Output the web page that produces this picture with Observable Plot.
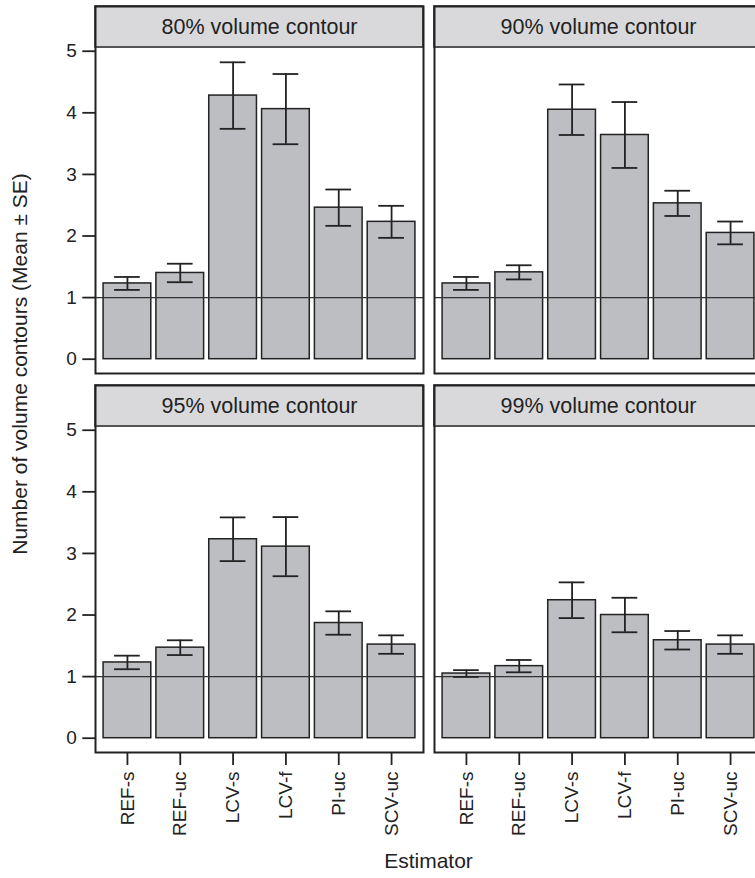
<!DOCTYPE html>
<html>
<head>
<meta charset="utf-8">
<script src="https://cdn.jsdelivr.net/npm/d3@7"></script>
<script src="https://cdn.jsdelivr.net/npm/@observablehq/plot@0.6"></script>
<style>
  html, body { margin: 0; padding: 0; background: #fff; overflow: hidden; }
  #chart { width: 755px; height: 878px; overflow: hidden; }
</style>
</head>
<body>
<div id="chart"></div>
<script>
// ---- data ----
const estimators = ["REF-s", "REF-uc", "LCV-s", "LCV-f", "PI-uc", "SCV-uc"];
const panelNames = ["80% volume contour", "90% volume contour", "95% volume contour", "99% volume contour"];
const panelCol = [0, 1, 0, 1];
const panelRow = [0, 0, 1, 1];

const mean80 = [1.23, 1.40, 4.28, 4.06, 2.46, 2.23];
const se80   = [0.105, 0.15, 0.54, 0.57, 0.295, 0.26];
const mean90 = [1.23, 1.41, 4.05, 3.64, 2.53, 2.05];
const se90   = [0.105, 0.115, 0.41, 0.535, 0.205, 0.185];
const mean95 = [1.23, 1.47, 3.23, 3.11, 1.87, 1.52];
const se95   = [0.11, 0.12, 0.355, 0.48, 0.19, 0.15];
const mean99 = [1.05, 1.17, 2.24, 2.00, 1.59, 1.52];
const se99   = [0.055, 0.10, 0.29, 0.28, 0.15, 0.15];

const yTicks = [0, 1, 2, 3, 4, 5];
const refLine = [1];
const yTitle = "Number of volume contours (Mean \u00b1 SE)";
const xTitle = "Estimator";

// ---- build table ----
const means = [mean80, mean90, mean95, mean99];
const ses = [se80, se90, se95, se99];
const rows = [];
panelNames.forEach((p, i) => {
  estimators.forEach((e, j) => {
    rows.push({panel: p, col: panelCol[i], row: panelRow[i], est: e,
               mean: means[i][j], lo: means[i][j] - ses[i][j], hi: means[i][j] + ses[i][j]});
  });
});
const panels = panelNames.map((p, i) => ({panel: p, col: panelCol[i], row: panelRow[i]}));

const ink = "#222";
const font = "'Liberation Sans', Arial, Helvetica, sans-serif";

const chart = Plot.plot({
  width: 762,
  height: 878,
  marginLeft: 95,
  marginRight: 0,
  marginTop: 6,
  marginBottom: 126,
  style: {fontFamily: font, color: ink, background: "#fff", maxWidth: "none", overflow: "visible"},
  fx: {domain: [0, 1], paddingInner: 0.0324, paddingOuter: 0, round: false, axis: null},
  fy: {domain: [0, 1], paddingInner: 0.0317, paddingOuter: 0, round: false, axis: null},
  x: {domain: estimators, paddingInner: 0.097, paddingOuter: 0.153, round: false},
  y: {domain: [-0.232, 5.726]},
  marks: [
    Plot.barY(rows, {fx: "col", fy: "row", x: "est", y: "mean", fill: "#bdbec2", stroke: ink, strokeWidth: 1.5}),
    Plot.ruleY(refLine, {stroke: "#333", strokeWidth: 1.3}),
    Plot.ruleX(rows, {fx: "col", fy: "row", x: "est", y1: "lo", y2: "hi", stroke: ink, strokeWidth: 1.8}),
    Plot.tickY(rows, {fx: "col", fy: "row", x: "est", y: "hi", stroke: ink, strokeWidth: 1.8, insetLeft: 11, insetRight: 11}),
    Plot.tickY(rows, {fx: "col", fy: "row", x: "est", y: "lo", stroke: ink, strokeWidth: 1.8, insetLeft: 11, insetRight: 11}),
    Plot.rect(panels, {fx: "col", fy: "row", y1: () => 5.06, y2: () => 5.726, fill: "#d9d9db", stroke: ink, strokeWidth: 1.5}),
    Plot.text(panels, {fx: "col", fy: "row", y: () => 5.39, text: "panel", fontSize: 21.5, fill: ink}),
    Plot.frame({stroke: ink, strokeWidth: 2}),
    Plot.axisY({ticks: yTicks, tickFormat: d => String(d), tickSize: 12.7, tickPadding: 6, fontSize: 19, label: null, stroke: ink, strokeWidth: 1.8}),
    Plot.axisX({tickSize: 13, tickPadding: 6, tickRotate: -90, fontSize: 19, label: null, stroke: ink, strokeWidth: 1.8})
  ]
});

const svg = d3.select(chart);
svg.append("text")
  .attr("transform", "translate(21,364) rotate(-90)")
  .attr("text-anchor", "middle")
  .attr("dominant-baseline", "middle")
  .attr("font-size", 21)
  .attr("fill", ink)
  .attr("font-family", font)
  .text(yTitle);
svg.append("text")
  .attr("x", 428.5)
  .attr("y", 868)
  .attr("text-anchor", "middle")
  .attr("font-size", 21)
  .attr("fill", ink)
  .attr("font-family", font)
  .text(xTitle);

document.getElementById("chart").appendChild(chart);
</script>
</body>
</html>
